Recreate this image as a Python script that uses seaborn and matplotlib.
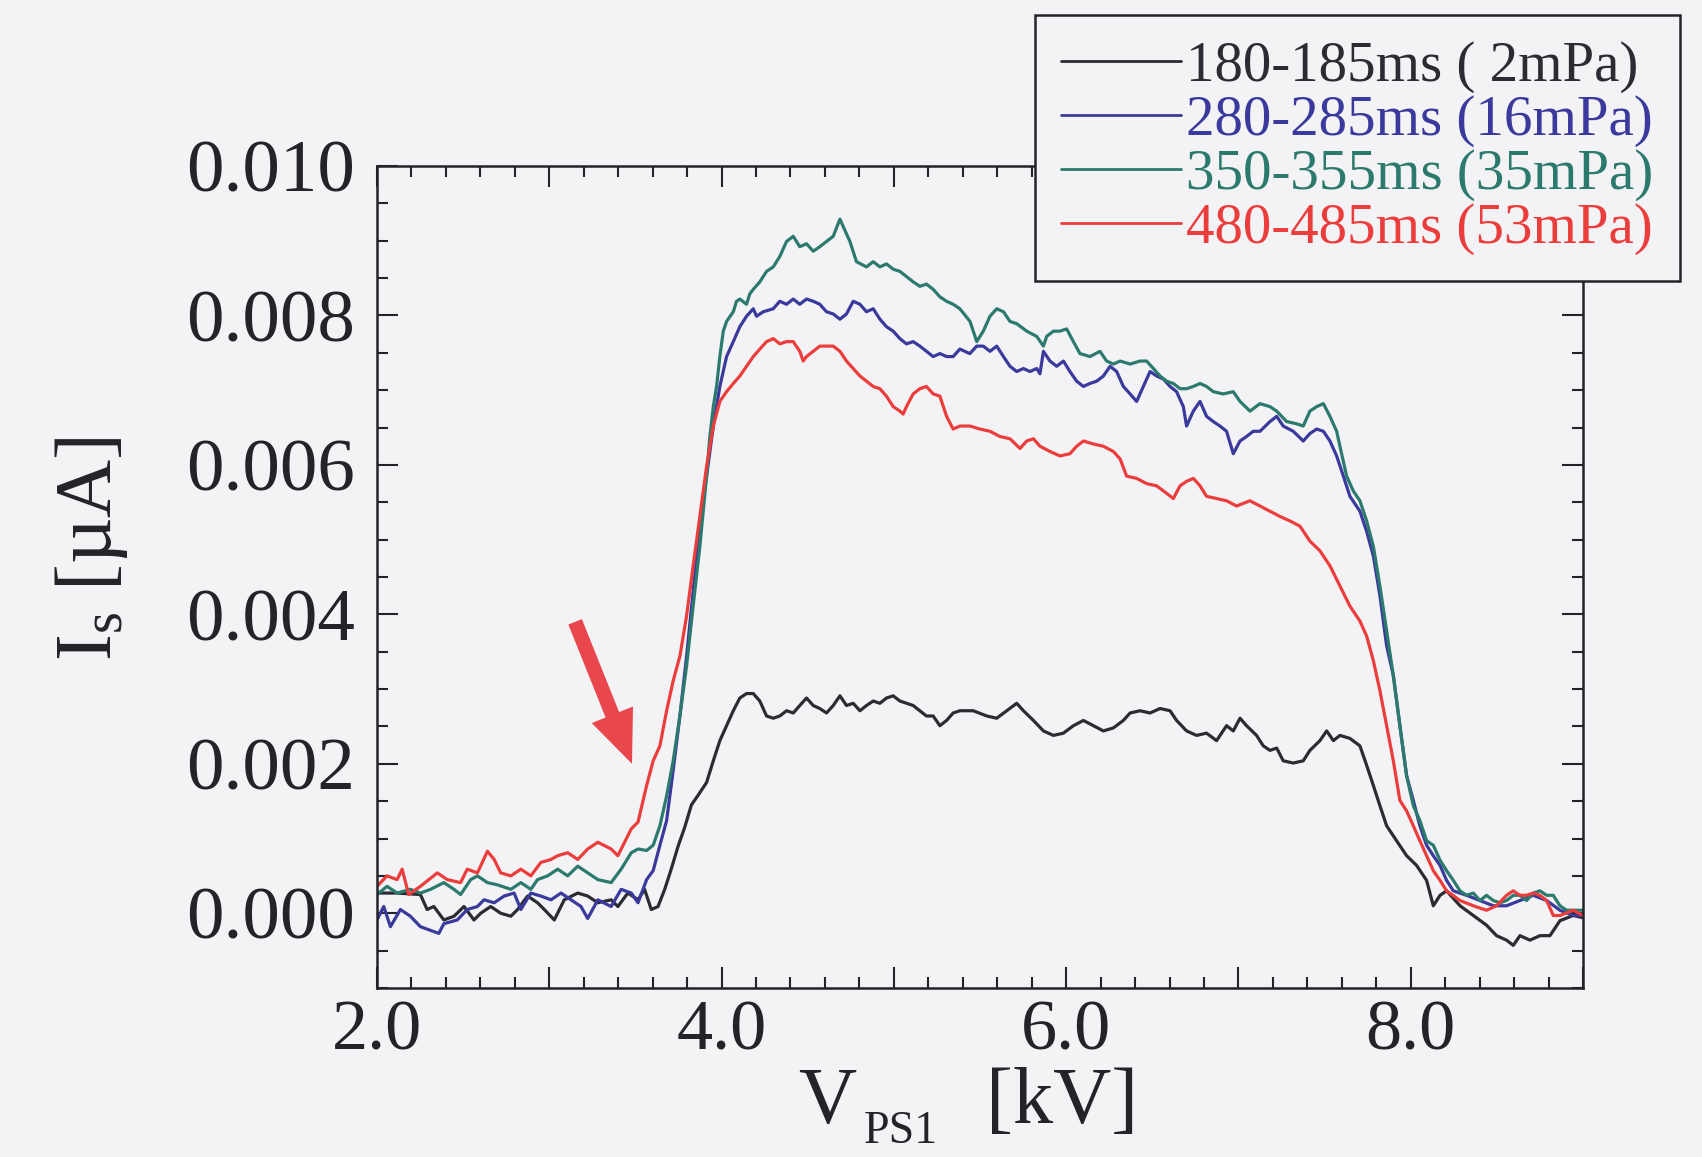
import matplotlib
matplotlib.use("Agg")
import matplotlib.pyplot as plt
import seaborn as sns
import pandas as pd
from matplotlib.lines import Line2D
from matplotlib.patches import FancyArrowPatch
from matplotlib.ticker import MultipleLocator

# ---------------- data ----------------
labels = ["180-185ms ( 2mPa)", "280-285ms (16mPa)", "350-355ms (35mPa)", "480-485ms (53mPa)"]
colors = ["#2b2b33", "#3a3a9c", "#2c7a6e", "#ec3d3d"]

black_pts = [
    (2.000, 0.00027), (2.117, 0.00027), (2.252, 0.00025), (2.291, 0.00005), (2.330, 0.00009),
    (2.388, -0.00009), (2.447, -0.00004), (2.505, 0.00009), (2.563, -0.00009), (2.602, 0.00000),
    (2.660, 0.00009), (2.718, 0.00000), (2.777, -0.00004), (2.816, 0.00005), (2.874, 0.00023),
    (2.932, 0.00014), (2.971, 0.00005), (3.029, -0.00009), (3.087, 0.00018), (3.165, 0.00027),
    (3.223, 0.00023), (3.282, 0.00014), (3.359, 0.00018), (3.398, 0.00009), (3.456, 0.00027),
    (3.515, 0.00018), (3.553, 0.00032), (3.592, 0.00005), (3.631, 0.00009), (3.670, 0.00032),
    (3.709, 0.00060), (3.748, 0.00090), (3.786, 0.00115), (3.825, 0.00145), (3.864, 0.00158),
    (3.913, 0.00175), (3.952, 0.00204), (3.990, 0.00231), (4.029, 0.00251), (4.068, 0.00271),
    (4.106, 0.00288), (4.145, 0.00294), (4.184, 0.00294), (4.222, 0.00284), (4.261, 0.00264),
    (4.300, 0.00261), (4.338, 0.00264), (4.377, 0.00271), (4.416, 0.00268), (4.454, 0.00278),
    (4.493, 0.00288), (4.532, 0.00278), (4.570, 0.00274), (4.609, 0.00268), (4.648, 0.00278),
    (4.687, 0.00291), (4.725, 0.00278), (4.764, 0.00281), (4.803, 0.00271), (4.841, 0.00278),
    (4.880, 0.00284), (4.919, 0.00281), (4.957, 0.00288), (4.996, 0.00291), (5.035, 0.00284),
    (5.073, 0.00281), (5.112, 0.00278), (5.151, 0.00271), (5.189, 0.00264), (5.228, 0.00264),
    (5.267, 0.00251), (5.306, 0.00258), (5.344, 0.00268), (5.383, 0.00271), (5.461, 0.00271),
    (5.539, 0.00264), (5.597, 0.00261), (5.655, 0.00271), (5.713, 0.00281), (5.752, 0.00271),
    (5.810, 0.00258), (5.868, 0.00244), (5.926, 0.00238), (5.984, 0.00241), (6.042, 0.00251),
    (6.100, 0.00258), (6.158, 0.00251), (6.216, 0.00244), (6.274, 0.00248), (6.332, 0.00258),
    (6.371, 0.00268), (6.429, 0.00271), (6.487, 0.00268), (6.545, 0.00274), (6.603, 0.00271),
    (6.641, 0.00258), (6.699, 0.00244), (6.757, 0.00238), (6.815, 0.00241), (6.873, 0.00231),
    (6.931, 0.00251), (6.970, 0.00244), (7.009, 0.00261), (7.047, 0.00251), (7.105, 0.00238),
    (7.144, 0.00224), (7.183, 0.00218), (7.222, 0.00221), (7.260, 0.00204), (7.318, 0.00201),
    (7.376, 0.00204), (7.415, 0.00218), (7.473, 0.00231), (7.512, 0.00244), (7.551, 0.00231),
    (7.589, 0.00238), (7.647, 0.00234), (7.705, 0.00224), (7.744, 0.00198), (7.783, 0.00171),
    (7.821, 0.00144), (7.860, 0.00117), (7.918, 0.00097), (7.976, 0.00077), (8.034, 0.00064),
    (8.092, 0.00044), (8.131, 0.00010), (8.170, 0.00024), (8.208, 0.00030), (8.286, 0.00010),
    (8.363, -0.00003), (8.440, -0.00016), (8.498, -0.00030), (8.556, -0.00036), (8.595, -0.00043),
    (8.634, -0.00030), (8.692, -0.00036), (8.750, -0.00030), (8.808, -0.00030), (8.866, -0.00010),
    (8.943, -0.00003), (9.000, -0.00006),
]

blue_pts = [
    (2.000, -0.00009), (2.039, 0.00009), (2.078, -0.00018), (2.136, 0.00005), (2.194, -0.00004),
    (2.252, -0.00018), (2.311, -0.00023), (2.359, -0.00027), (2.388, -0.00014), (2.466, -0.00009),
    (2.524, 0.00005), (2.583, 0.00009), (2.621, 0.00018), (2.680, 0.00014), (2.738, 0.00023),
    (2.796, 0.00027), (2.835, 0.00005), (2.893, 0.00027), (2.951, 0.00023), (3.010, 0.00018),
    (3.068, 0.00027), (3.126, 0.00018), (3.184, 0.00009), (3.223, -0.00007), (3.282, 0.00018),
    (3.359, 0.00009), (3.417, 0.00032), (3.476, 0.00027), (3.515, 0.00014), (3.565, 0.00045),
    (3.603, 0.00057), (3.642, 0.00091), (3.681, 0.00124), (3.719, 0.00191), (3.758, 0.00264),
    (3.797, 0.00344), (3.835, 0.00431), (3.874, 0.00518), (3.913, 0.00585), (3.952, 0.00652),
    (3.990, 0.00705), (4.029, 0.00745), (4.068, 0.00765), (4.106, 0.00785), (4.145, 0.00799),
    (4.184, 0.00809), (4.203, 0.00799), (4.242, 0.00805), (4.300, 0.00809), (4.338, 0.00819),
    (4.377, 0.00815), (4.416, 0.00822), (4.454, 0.00815), (4.493, 0.00822), (4.532, 0.00819),
    (4.570, 0.00815), (4.609, 0.00805), (4.648, 0.00802), (4.687, 0.00795), (4.725, 0.00802),
    (4.764, 0.00819), (4.803, 0.00815), (4.841, 0.00805), (4.880, 0.00809), (4.919, 0.00795),
    (4.957, 0.00785), (4.996, 0.00779), (5.035, 0.00769), (5.073, 0.00762), (5.112, 0.00765),
    (5.151, 0.00759), (5.189, 0.00752), (5.228, 0.00745), (5.267, 0.00749), (5.306, 0.00745),
    (5.344, 0.00745), (5.383, 0.00755), (5.441, 0.00749), (5.481, 0.00759), (5.519, 0.00759),
    (5.558, 0.00752), (5.597, 0.00759), (5.636, 0.00745), (5.674, 0.00732), (5.713, 0.00725),
    (5.752, 0.00729), (5.790, 0.00725), (5.829, 0.00729), (5.848, 0.00722), (5.868, 0.00752),
    (5.906, 0.00739), (5.945, 0.00732), (5.984, 0.00739), (6.022, 0.00725), (6.061, 0.00712),
    (6.100, 0.00705), (6.138, 0.00709), (6.177, 0.00712), (6.216, 0.00719), (6.255, 0.00732),
    (6.293, 0.00725), (6.332, 0.00705), (6.371, 0.00695), (6.409, 0.00685), (6.448, 0.00705),
    (6.487, 0.00725), (6.525, 0.00719), (6.564, 0.00715), (6.603, 0.00705), (6.641, 0.00698),
    (6.680, 0.00678), (6.699, 0.00652), (6.738, 0.00672), (6.777, 0.00685), (6.815, 0.00665),
    (6.854, 0.00658), (6.893, 0.00652), (6.931, 0.00645), (6.970, 0.00615), (7.009, 0.00632),
    (7.047, 0.00638), (7.086, 0.00645), (7.125, 0.00645), (7.183, 0.00658), (7.222, 0.00665),
    (7.260, 0.00652), (7.318, 0.00645), (7.376, 0.00632), (7.415, 0.00642), (7.454, 0.00648),
    (7.493, 0.00645), (7.531, 0.00632), (7.570, 0.00612), (7.609, 0.00585), (7.647, 0.00558),
    (7.705, 0.00538), (7.744, 0.00511), (7.783, 0.00478), (7.821, 0.00425), (7.860, 0.00358),
    (7.899, 0.00318), (7.937, 0.00251), (7.976, 0.00184), (8.015, 0.00151), (8.053, 0.00117),
    (8.092, 0.00091), (8.131, 0.00077), (8.170, 0.00064), (8.208, 0.00044), (8.247, 0.00030),
    (8.324, 0.00024), (8.402, 0.00017), (8.479, 0.00010), (8.556, 0.00010), (8.634, 0.00017),
    (8.711, 0.00024), (8.789, 0.00017), (8.866, 0.00004), (8.943, -0.00003), (9.000, -0.00003),
]

teal_pts = [
    (2.000, 0.00025), (2.058, 0.00036), (2.117, 0.00027), (2.194, 0.00032), (2.252, 0.00027),
    (2.311, 0.00032), (2.388, 0.00041), (2.447, 0.00032), (2.485, 0.00025), (2.544, 0.00045),
    (2.583, 0.00050), (2.641, 0.00041), (2.699, 0.00038), (2.777, 0.00032), (2.835, 0.00041),
    (2.893, 0.00032), (2.932, 0.00045), (2.990, 0.00050), (3.049, 0.00059), (3.107, 0.00050),
    (3.165, 0.00063), (3.223, 0.00054), (3.282, 0.00045), (3.359, 0.00041), (3.417, 0.00059),
    (3.476, 0.00081), (3.515, 0.00086), (3.565, 0.00084), (3.603, 0.00091), (3.642, 0.00117),
    (3.681, 0.00157), (3.719, 0.00204), (3.758, 0.00264), (3.797, 0.00331), (3.835, 0.00411),
    (3.874, 0.00491), (3.913, 0.00585), (3.932, 0.00638), (3.952, 0.00678), (3.971, 0.00705),
    (3.990, 0.00745), (4.010, 0.00779), (4.029, 0.00792), (4.068, 0.00805), (4.087, 0.00819),
    (4.106, 0.00822), (4.145, 0.00815), (4.164, 0.00829), (4.184, 0.00835), (4.222, 0.00845),
    (4.261, 0.00859), (4.300, 0.00865), (4.338, 0.00879), (4.377, 0.00899), (4.416, 0.00906),
    (4.454, 0.00892), (4.493, 0.00896), (4.532, 0.00886), (4.570, 0.00892), (4.609, 0.00899),
    (4.648, 0.00906), (4.687, 0.00929), (4.706, 0.00919), (4.745, 0.00899), (4.783, 0.00872),
    (4.841, 0.00865), (4.880, 0.00872), (4.919, 0.00865), (4.957, 0.00869), (4.996, 0.00862),
    (5.035, 0.00859), (5.073, 0.00852), (5.112, 0.00845), (5.151, 0.00839), (5.189, 0.00842),
    (5.228, 0.00835), (5.267, 0.00825), (5.306, 0.00819), (5.344, 0.00815), (5.383, 0.00809),
    (5.442, 0.00792), (5.481, 0.00765), (5.519, 0.00779), (5.558, 0.00799), (5.597, 0.00809),
    (5.636, 0.00805), (5.674, 0.00792), (5.713, 0.00789), (5.771, 0.00779), (5.829, 0.00772),
    (5.868, 0.00759), (5.887, 0.00772), (5.926, 0.00779), (5.964, 0.00779), (6.003, 0.00782),
    (6.042, 0.00765), (6.080, 0.00749), (6.138, 0.00745), (6.196, 0.00752), (6.235, 0.00739),
    (6.274, 0.00735), (6.313, 0.00739), (6.371, 0.00735), (6.429, 0.00739), (6.467, 0.00739),
    (6.506, 0.00729), (6.545, 0.00719), (6.583, 0.00712), (6.622, 0.00709), (6.661, 0.00702),
    (6.699, 0.00702), (6.738, 0.00705), (6.777, 0.00709), (6.815, 0.00705), (6.854, 0.00698),
    (6.912, 0.00695), (6.970, 0.00698), (7.009, 0.00685), (7.067, 0.00672), (7.125, 0.00682),
    (7.183, 0.00678), (7.222, 0.00672), (7.280, 0.00658), (7.338, 0.00655), (7.376, 0.00652),
    (7.415, 0.00672), (7.454, 0.00678), (7.493, 0.00682), (7.531, 0.00665), (7.570, 0.00645),
    (7.589, 0.00625), (7.628, 0.00585), (7.667, 0.00565), (7.705, 0.00552), (7.744, 0.00525),
    (7.783, 0.00491), (7.821, 0.00438), (7.860, 0.00378), (7.899, 0.00318), (7.937, 0.00251),
    (7.976, 0.00184), (8.015, 0.00144), (8.053, 0.00124), (8.092, 0.00097), (8.131, 0.00091),
    (8.170, 0.00071), (8.208, 0.00057), (8.247, 0.00044), (8.286, 0.00030), (8.324, 0.00024),
    (8.363, 0.00027), (8.402, 0.00017), (8.440, 0.00024), (8.479, 0.00017), (8.518, 0.00014),
    (8.556, 0.00017), (8.595, 0.00024), (8.634, 0.00024), (8.672, 0.00017), (8.711, 0.00027),
    (8.750, 0.00030), (8.789, 0.00024), (8.827, 0.00024), (8.866, 0.00010), (8.905, 0.00004),
    (8.943, 0.00004), (9.000, 0.00004),
]

red_pts = [
    (2.000, 0.00036), (2.058, 0.00050), (2.117, 0.00045), (2.146, 0.00059), (2.184, 0.00025),
    (2.252, 0.00036), (2.350, 0.00054), (2.408, 0.00045), (2.485, 0.00041), (2.524, 0.00059),
    (2.583, 0.00054), (2.641, 0.00083), (2.680, 0.00072), (2.718, 0.00054), (2.777, 0.00050),
    (2.835, 0.00059), (2.893, 0.00050), (2.951, 0.00068), (3.010, 0.00072), (3.049, 0.00077),
    (3.107, 0.00081), (3.165, 0.00072), (3.223, 0.00086), (3.282, 0.00095), (3.359, 0.00086),
    (3.398, 0.00077), (3.437, 0.00095), (3.476, 0.00113), (3.515, 0.00122), (3.565, 0.00171),
    (3.603, 0.00204), (3.642, 0.00224), (3.681, 0.00271), (3.719, 0.00311), (3.758, 0.00344),
    (3.797, 0.00398), (3.835, 0.00465), (3.874, 0.00531), (3.913, 0.00598), (3.952, 0.00652),
    (3.990, 0.00685), (4.029, 0.00698), (4.068, 0.00709), (4.106, 0.00719), (4.145, 0.00732),
    (4.184, 0.00745), (4.222, 0.00755), (4.261, 0.00765), (4.300, 0.00769), (4.338, 0.00762),
    (4.377, 0.00765), (4.416, 0.00765), (4.454, 0.00752), (4.474, 0.00739), (4.493, 0.00745),
    (4.532, 0.00752), (4.570, 0.00759), (4.609, 0.00759), (4.648, 0.00759), (4.687, 0.00752),
    (4.725, 0.00739), (4.764, 0.00729), (4.803, 0.00719), (4.841, 0.00712), (4.880, 0.00705),
    (4.919, 0.00702), (4.957, 0.00692), (4.996, 0.00678), (5.035, 0.00672), (5.054, 0.00668),
    (5.073, 0.00678), (5.112, 0.00695), (5.151, 0.00702), (5.189, 0.00705), (5.228, 0.00695),
    (5.267, 0.00692), (5.306, 0.00665), (5.344, 0.00648), (5.383, 0.00652), (5.442, 0.00652),
    (5.500, 0.00648), (5.558, 0.00645), (5.616, 0.00638), (5.674, 0.00635), (5.732, 0.00622),
    (5.771, 0.00632), (5.810, 0.00635), (5.848, 0.00625), (5.906, 0.00618), (5.964, 0.00612),
    (6.022, 0.00615), (6.061, 0.00625), (6.100, 0.00632), (6.158, 0.00628), (6.216, 0.00625),
    (6.274, 0.00618), (6.313, 0.00608), (6.351, 0.00585), (6.409, 0.00582), (6.467, 0.00575),
    (6.525, 0.00572), (6.583, 0.00562), (6.622, 0.00555), (6.661, 0.00572), (6.699, 0.00578),
    (6.738, 0.00582), (6.777, 0.00572), (6.815, 0.00558), (6.873, 0.00555), (6.931, 0.00552),
    (6.989, 0.00545), (7.067, 0.00552), (7.125, 0.00545), (7.183, 0.00538), (7.241, 0.00531),
    (7.299, 0.00525), (7.357, 0.00518), (7.415, 0.00498), (7.473, 0.00485), (7.531, 0.00465),
    (7.589, 0.00438), (7.647, 0.00411), (7.705, 0.00391), (7.744, 0.00371), (7.783, 0.00338),
    (7.821, 0.00298), (7.860, 0.00251), (7.899, 0.00204), (7.937, 0.00151), (7.976, 0.00137),
    (8.015, 0.00117), (8.053, 0.00097), (8.092, 0.00077), (8.131, 0.00057), (8.170, 0.00044),
    (8.208, 0.00030), (8.286, 0.00017), (8.363, 0.00010), (8.440, 0.00004), (8.498, 0.00010),
    (8.556, 0.00024), (8.595, 0.00030), (8.634, 0.00024), (8.672, 0.00024), (8.711, 0.00027),
    (8.750, 0.00024), (8.789, 0.00017), (8.827, -0.00003), (8.866, -0.00003), (8.943, 0.00004),
    (9.000, -0.00003),
]

x_tick_values = [2, 3, 4, 5, 6, 7, 8, 9]
x_tick_labels = ["2.0", "", "4.0", "", "6.0", "", "8.0", ""]
y_tick_values = [0.000, 0.002, 0.004, 0.006, 0.008, 0.010]
y_tick_labels = ["0.000", "0.002", "0.004", "0.006", "0.008", "0.010"]
arrow_tail = (3.15, 0.0039)
arrow_head = (3.48, 0.0020)

# ---------------- build long table ----------------
series = [black_pts, blue_pts, teal_pts, red_pts]
frames = []
for lab, pts in zip(labels, series):
    xs, ys = zip(*pts)
    frames.append(pd.DataFrame({"V": xs, "I": ys, "series": lab}))
df = pd.concat(frames, ignore_index=True)

# ---------------- style ----------------
sns.set_theme(style="ticks")
plt.rcParams["font.family"] = ["Liberation Serif", "DejaVu Serif"]
plt.rcParams["mathtext.fontset"] = "custom"
plt.rcParams["mathtext.rm"] = "Liberation Serif"
plt.rcParams["mathtext.it"] = "Liberation Serif:italic"
plt.rcParams["mathtext.bf"] = "Liberation Serif:bold"

BG = "#f3f3f6"
INK = "#242428"

W, H = 1702, 1157
fig = plt.figure(figsize=(W / 100, H / 100), dpi=100, facecolor=BG)
ax = fig.add_axes([0.2215, 0.1461, 0.7086, 0.7104])
ax.set_facecolor(BG)

sns.lineplot(data=df, x="V", y="I", hue="series", hue_order=labels,
             palette=colors, sort=False, estimator=None, linewidth=2.3,
             legend=False, ax=ax)

ax.set_xlim(2.0, 9.0)
ax.set_ylim(-0.001, 0.010)
ax.set_xticks(x_tick_values)
ax.set_xticklabels(x_tick_labels)
ax.set_yticks(y_tick_values)
ax.set_yticklabels(y_tick_labels)
ax.xaxis.set_minor_locator(MultipleLocator(0.2))
ax.yaxis.set_minor_locator(MultipleLocator(0.0005))
ax.tick_params(which="both", direction="in", top=True, right=True,
               color=INK, width=1.5, labelcolor=INK)
ax.tick_params(which="major", length=15)
ax.tick_params(axis="x", which="major", pad=8, labelsize=52)
ax.tick_params(axis="y", which="major", pad=16, labelsize=54)
ax.tick_params(which="minor", length=8)
for sp in ax.spines.values():
    sp.set_linewidth(1.8)
    sp.set_color(INK)
ax.set_xlabel("")

# x-axis label built from pieces so the subscript sits low, as in the figure
fig.text(798 / W, 1 - 1123 / H, "V", fontsize=58, color=INK, ha="left", va="baseline")
fig.text(864 / W, 1 - 1143 / H, "PS1", fontsize=33, color=INK, ha="left", va="baseline")
fig.text(986 / W, 1 - 1123 / H, "[kV]", fontsize=58, color=INK, ha="left", va="baseline")

ax.set_ylabel(r"$\mathrm{I}_{\mathrm{s}}\ \mathrm{[µA]}$", fontsize=58, color=INK)
ax.yaxis.set_label_coords(-0.205, 0.535)

arrow = FancyArrowPatch(posA=arrow_tail, posB=arrow_head,
                        arrowstyle="simple,head_length=3.8,head_width=3.2,tail_width=1.05",
                        mutation_scale=10, color="#e8474d", lw=0,
                        shrinkA=0, shrinkB=0, zorder=5)
ax.add_patch(arrow)

handles = [Line2D([], [], color=c, lw=2.0) for c in colors]
leg = fig.legend(handles, labels, loc="upper right", bbox_to_anchor=(0.987, 0.987),
                 bbox_transform=fig.transFigure, fontsize=41, frameon=True,
                 fancybox=False, edgecolor=INK, facecolor=BG, framealpha=1.0,
                 handlelength=2.1, handletextpad=0.1, labelspacing=0.03,
                 borderpad=0.46, borderaxespad=0.0)
leg.get_frame().set_linewidth(1.8)
for t, c in zip(leg.get_texts(), colors):
    t.set_color(c)

fig.savefig("out.png", dpi=100, facecolor=BG)
